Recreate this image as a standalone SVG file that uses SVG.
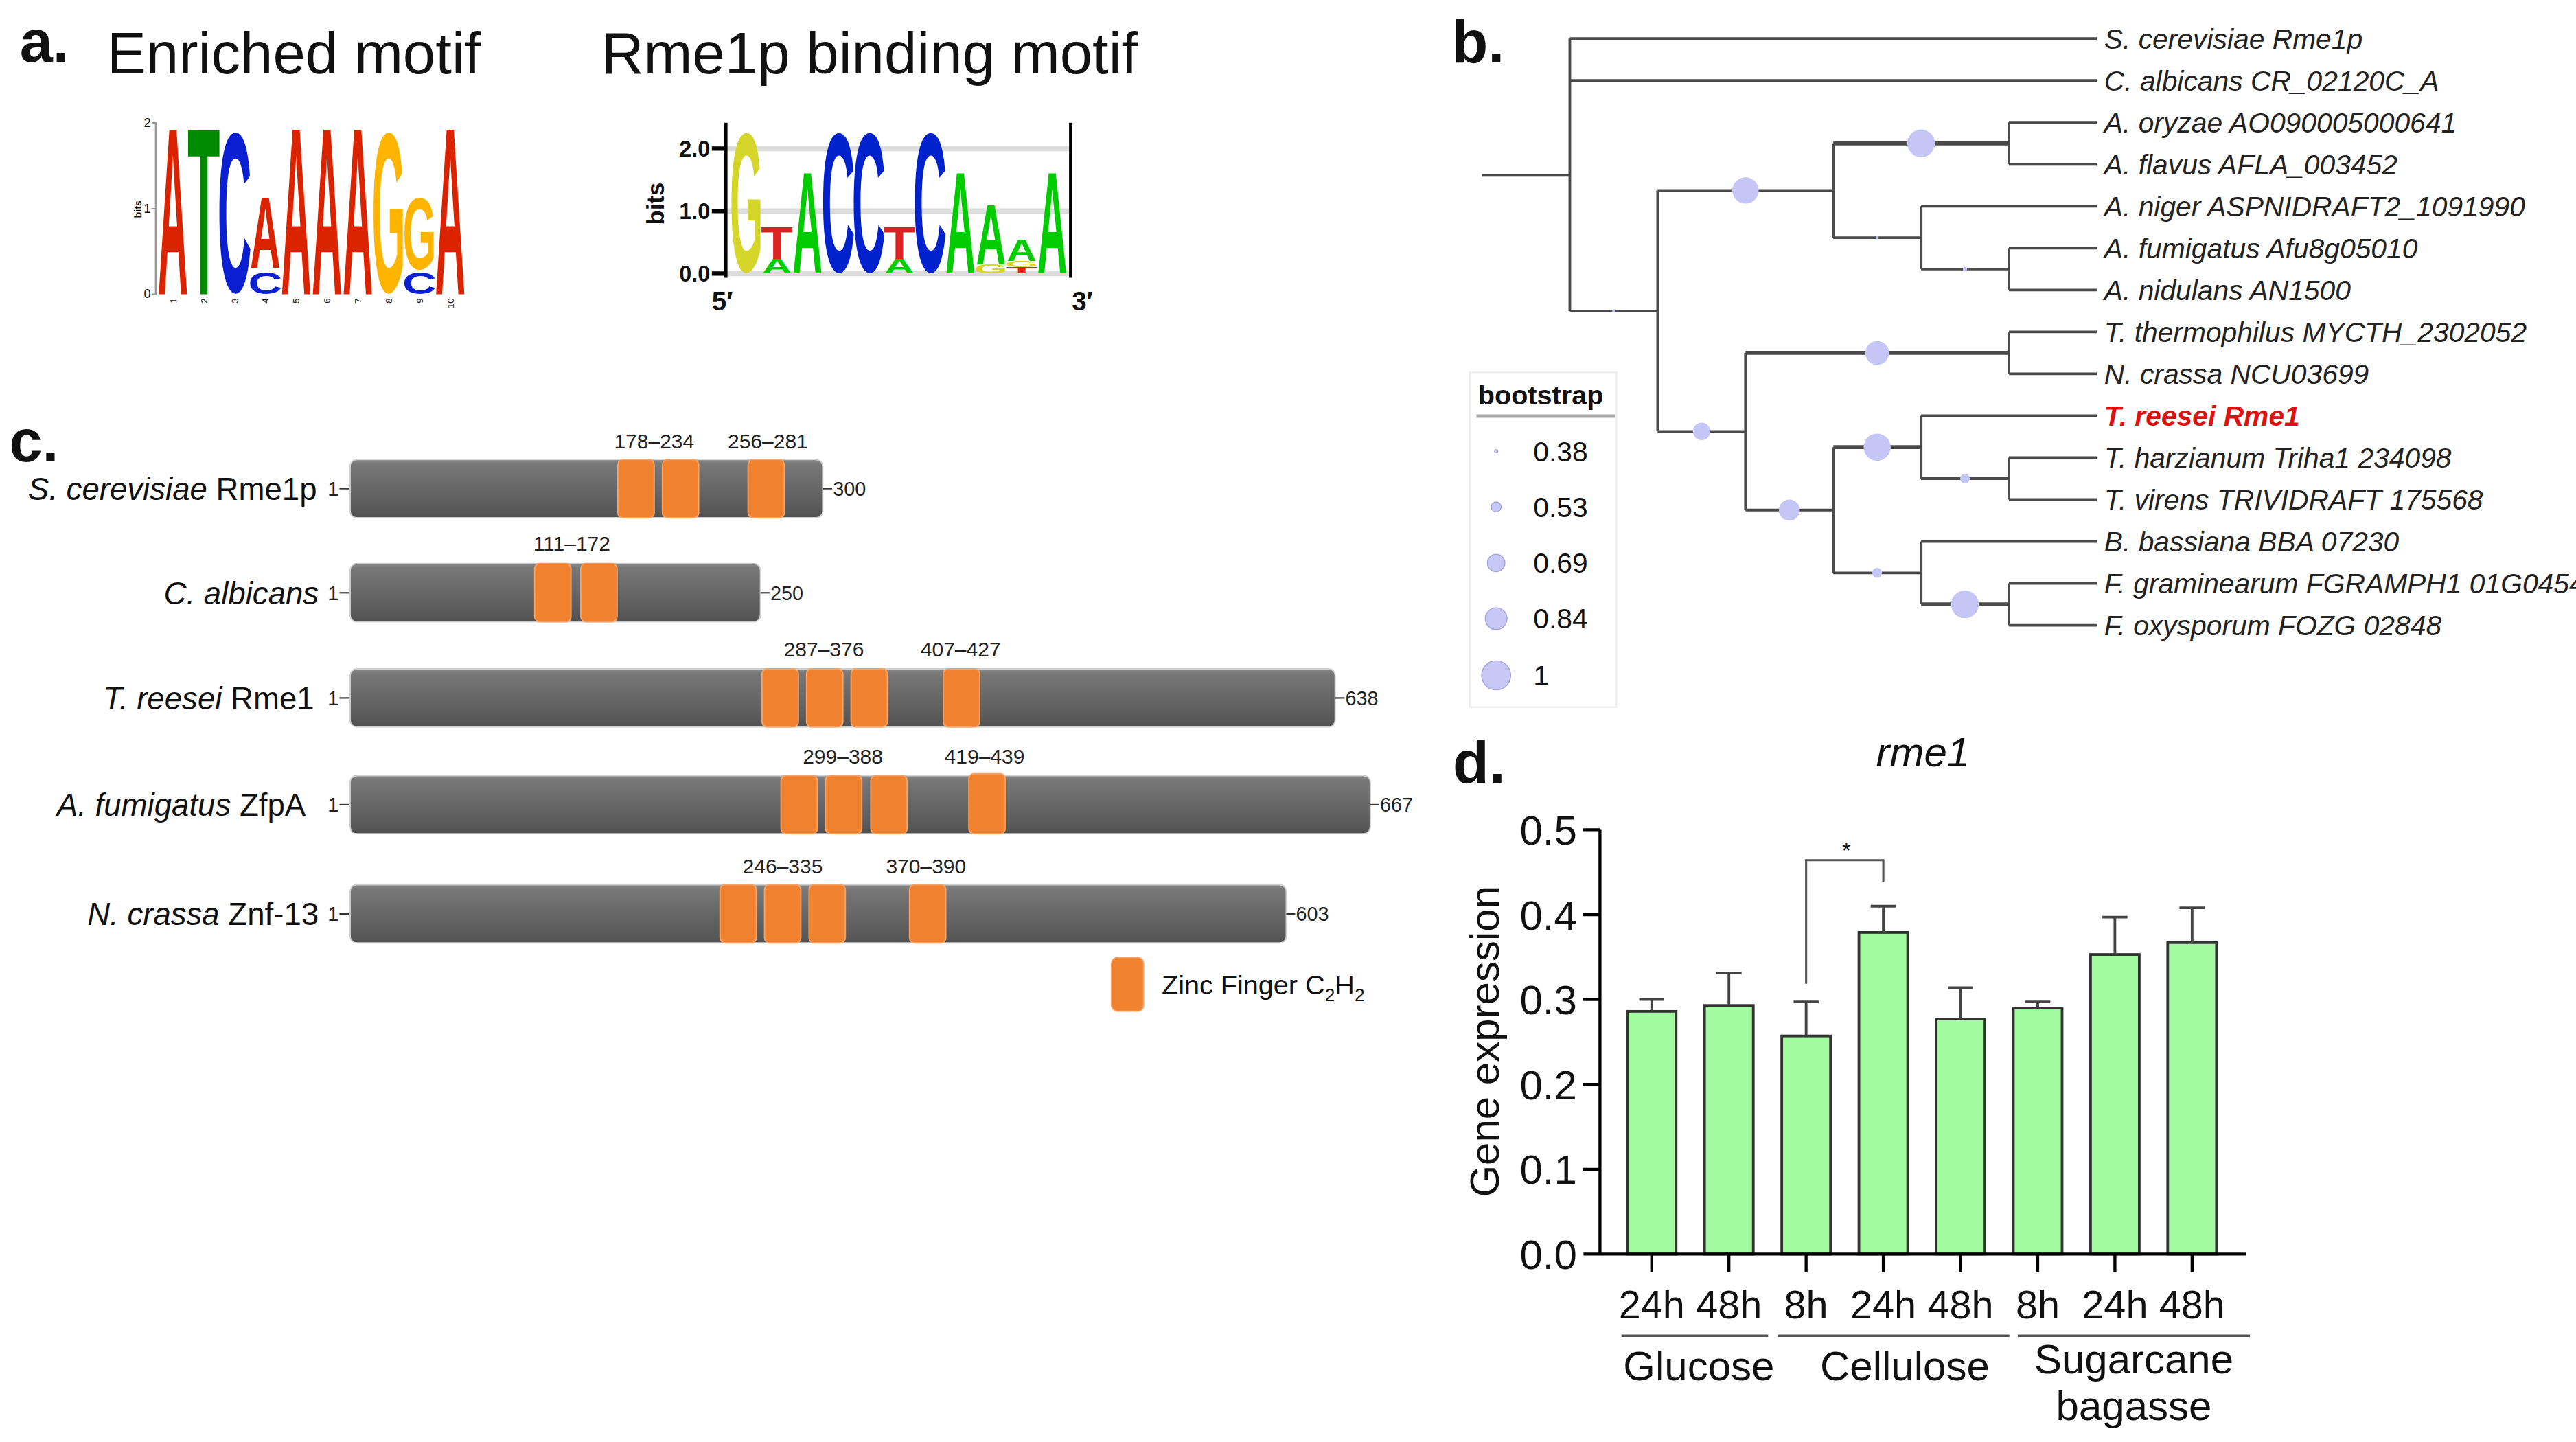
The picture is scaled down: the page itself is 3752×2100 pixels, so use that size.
<svg xmlns="http://www.w3.org/2000/svg" width="3752" height="2100" viewBox="0 0 3752 2100">
<defs>
<style>
text{font-family:"Liberation Sans",Arial,Helvetica,sans-serif;fill:#111}
.lbl{font-weight:bold;font-size:36px}
.title{font-size:35.5px}
.lg{font-family:"Liberation Sans",Arial,sans-serif;font-weight:bold;font-size:100px;text-anchor:middle}
.rA{fill:#dc2300}.gT{fill:#008a00}.bC{fill:#0a1ed2}.yG{fill:#ffb400}
.A2{fill:#00cc00}.T2{fill:#dd2222}.C2{fill:#0022cc}.G2{fill:#d6d62a}
.leaf{font-style:italic;font-size:17px;fill:#222}
.br{fill:none;stroke:#4a4a4a;stroke-width:1.6}
.brt{fill:none;stroke:#4a4a4a;stroke-width:2.4}
.bs{fill:#c6c6f6}
.lgc{fill:#c8c8f6;stroke:#a4a4d8;stroke-width:0.6}
.pos{font-size:12.5px;text-anchor:middle;fill:#222}
.nend{font-size:12px;fill:#222}
.prot{font-size:19px;text-anchor:end}
.zf{fill:#f0812f;stroke:#f6a264;stroke-width:0.8}
.bar{fill:url(#barGrad);stroke:#cfcfcf;stroke-width:0.8}
.dash{stroke:#333;stroke-width:0.9}
.gbar{fill:#a2fb9e;stroke:#333;stroke-width:1.6}
.err{stroke:#444;stroke-width:1.6;fill:none}
.axis{stroke:#000;stroke-width:1.8;fill:none}
.tk{font-size:25px;text-anchor:end}
.xl{font-size:24px;text-anchor:middle}
.grp{font-size:25px;text-anchor:middle}
</style>
<linearGradient id="barGrad" x1="0" y1="0" x2="0" y2="1">
<stop offset="0" stop-color="#8c8c8c"/>
<stop offset="0.07" stop-color="#787878"/>
<stop offset="0.9" stop-color="#575757"/>
<stop offset="1" stop-color="#505050"/>
</linearGradient>
</defs>
<rect width="3752" height="2100" fill="#fff"/>
<g transform="scale(2.4)">

<!-- ================= Panel a ================= -->
<g id="panel-a">
<text class="lbl" x="12" y="37.5">a.</text>
<text class="title" x="65" y="44.5">Enriched motif</text>
<text class="title" x="365" y="44.5">Rme1p binding motif</text>

<g id="logo-enriched">
<line x1="94.5" y1="74.6" x2="94.5" y2="178.5" stroke="#999" stroke-width="1"/>
<path d="M92,74.6H95M92,126.6H95M92,178.5H95" stroke="#999" stroke-width="0.8"/>
<text x="91.5" y="77" font-size="7.5" text-anchor="end">2</text>
<text x="91.5" y="129" font-size="7.5" text-anchor="end">1</text>
<text x="91.5" y="181" font-size="7.5" text-anchor="end">0</text>
<text font-size="6" font-weight="bold" text-anchor="middle" transform="translate(86,127) rotate(-90)">bits</text>
<text class="lg rA" transform="translate(104.95,178.5) scale(0.2556,1.4497)">A</text>
<text class="lg gT" transform="translate(123.65,178.5) scale(0.3228,1.4497)">T</text>
<text class="lg bC" transform="translate(142.35,176.85) scale(0.2875,1.3793)">C</text>
<text class="lg bC" transform="translate(161.05,178.27) scale(0.2875,0.1881)">C</text>
<text class="lg rA" transform="translate(161.05,162.41) scale(0.2556,0.6197)">A</text>
<text class="lg rA" transform="translate(179.75,178.5) scale(0.2556,1.4497)">A</text>
<text class="lg rA" transform="translate(198.45,178.5) scale(0.2556,1.4497)">A</text>
<text class="lg rA" transform="translate(217.15,178.5) scale(0.2556,1.4497)">A</text>
<text class="lg yG" transform="translate(235.85,176.85) scale(0.2629,1.3793)">G</text>
<text class="lg bC" transform="translate(254.55,178.27) scale(0.2875,0.1881)">C</text>
<text class="lg yG" transform="translate(254.55,163.23) scale(0.2629,0.6165)">G</text>
<text class="lg rA" transform="translate(273.25,178.5) scale(0.2556,1.4497)">A</text>
<g font-size="5.5" text-anchor="end">
<text transform="translate(107,181) rotate(-90)">1</text>
<text transform="translate(125.7,181) rotate(-90)">2</text>
<text transform="translate(144.4,181) rotate(-90)">3</text>
<text transform="translate(163.1,181) rotate(-90)">4</text>
<text transform="translate(181.8,181) rotate(-90)">5</text>
<text transform="translate(200.5,181) rotate(-90)">6</text>
<text transform="translate(219.2,181) rotate(-90)">7</text>
<text transform="translate(237.9,181) rotate(-90)">8</text>
<text transform="translate(256.6,181) rotate(-90)">9</text>
<text transform="translate(275.3,181) rotate(-90)">10</text>
</g>
</g>

<g id="logo-rme1p">
<path d="M441,90.2H649M441,128.1H649M441,166H649" stroke="#dcdcdc" stroke-width="3.2" fill="none"/>
<text class="lg G2" transform="translate(452.98,164.56) scale(0.26,1.2006)">G</text>
<text class="lg A2" transform="translate(471.54,166) scale(0.2528,0.1271)">A</text>
<text class="lg T2" transform="translate(471.54,156.9) scale(0.3193,0.2753)">T</text>
<text class="lg A2" transform="translate(490.1,166) scale(0.2528,0.884)">A</text>
<text class="lg C2" transform="translate(508.66,164.56) scale(0.2844,1.2006)">C</text>
<text class="lg C2" transform="translate(527.22,164.56) scale(0.2844,1.2006)">C</text>
<text class="lg A2" transform="translate(545.78,166) scale(0.2528,0.1271)">A</text>
<text class="lg T2" transform="translate(545.78,156.9) scale(0.3193,0.2753)">T</text>
<text class="lg C2" transform="translate(564.34,164.56) scale(0.2844,1.2006)">C</text>
<text class="lg A2" transform="translate(582.9,166) scale(0.2528,0.884)">A</text>
<text class="lg G2" transform="translate(601.46,165.9) scale(0.26,0.0763)">G</text>
<text class="lg A2" transform="translate(601.46,160.3) scale(0.2528,0.5187)">A</text>
<text class="lg T2" transform="translate(620.02,166) scale(0.3193,0.0529)">T</text>
<text class="lg G2" transform="translate(620.02,162.15) scale(0.26,0.0509)">G</text>
<text class="lg A2" transform="translate(620.02,158.42) scale(0.2528,0.1853)">A</text>
<text class="lg A2" transform="translate(638.58,166) scale(0.2528,0.884)">A</text>
<path d="M440.5,74.5V168.5M649.8,74.5V168.5" stroke="#000" stroke-width="2" fill="none"/>
<path d="M432,90.2H440.5M432,128.1H440.5M432,166H440.5" stroke="#000" stroke-width="2.6" fill="none"/>
<g font-size="13.5" font-weight="bold" text-anchor="end">
<text x="431" y="95">2.0</text>
<text x="431" y="133">1.0</text>
<text x="431" y="171">0.0</text>
</g>
<text font-size="14.5" font-weight="bold" text-anchor="middle" transform="translate(403,123.6) rotate(-90)">bits</text>
<text x="432" y="188.2" font-size="16" font-weight="bold">5′</text>
<text x="650.5" y="188.2" font-size="16" font-weight="bold">3′</text>
</g>
</g>

<!-- ================= Panel b ================= -->
<g id="panel-b">
<text class="lbl" x="881" y="38">b.</text>
<g id="tree-connectors">
<path class="br" d="M899.4,106.4H952.7M952.7,23.4V188.7M952.7,23.4H1272.5M952.7,48.83H1272.5M952.7,188.7H1006M1006,115.58V261.81"/>
<path class="br" d="M1006,115.58H1112.6M1112.6,86.98V144.19"/>
<path class="brt" d="M1112.6,86.98H1219.2"/>
<path class="br" d="M1219.2,74.26V99.69M1219.2,74.26H1272.5M1219.2,99.69H1272.5"/>
<path class="br" d="M1112.6,144.19H1165.9M1165.9,125.12V163.27M1165.9,125.12H1272.5M1165.9,163.27H1219.2M1219.2,150.55V175.98M1219.2,150.55H1272.5M1219.2,175.98H1272.5"/>
<path class="br" d="M1006,261.81H1059.3M1059.3,214.13V309.49"/>
<path class="brt" d="M1059.3,214.13H1219.2"/>
<path class="br" d="M1219.2,201.41V226.84M1219.2,201.41H1272.5M1219.2,226.84H1272.5"/>
<path class="br" d="M1059.3,309.49H1112.6M1112.6,271.34V347.63"/>
<path class="brt" d="M1112.6,271.34H1165.9"/>
<path class="br" d="M1165.9,252.27V290.42M1165.9,252.27H1272.5M1165.9,290.42H1219.2M1219.2,277.7V303.13M1219.2,277.7H1272.5M1219.2,303.13H1272.5"/>
<path class="br" d="M1112.6,347.63H1165.9M1165.9,328.56V366.7M1165.9,328.56H1272.5"/>
<path class="brt" d="M1165.9,366.7H1219.2"/>
<path class="br" d="M1219.2,353.99V379.42M1219.2,353.99H1272.5M1219.2,379.42H1272.5"/>
</g>
<g id="bootstrap-nodes">
<circle class="bs" cx="979.4" cy="188.7" r="1"/>
<circle class="bs" cx="1059.3" cy="115.58" r="8"/>
<circle class="bs" cx="1165.9" cy="86.98" r="8.4"/>
<circle class="bs" cx="1139.2" cy="144.19" r="1"/>
<circle class="bs" cx="1192.5" cy="163.27" r="1.3"/>
<circle class="bs" cx="1032.7" cy="261.81" r="5.3"/>
<circle class="bs" cx="1139.2" cy="214.13" r="7.2"/>
<circle class="bs" cx="1085.9" cy="309.49" r="6.4"/>
<circle class="bs" cx="1139.2" cy="271.34" r="8.2"/>
<circle class="bs" cx="1192.5" cy="290.42" r="3"/>
<circle class="bs" cx="1139.2" cy="347.63" r="3"/>
<circle class="bs" cx="1192.5" cy="366.7" r="8.4"/>
</g>
<g id="leaf-1"><text class="leaf" x="1277" y="29.4">S. cerevisiae Rme1p</text></g>
<g id="leaf-2"><text class="leaf" x="1277" y="54.8">C. albicans CR_02120C_A</text></g>
<g id="leaf-3"><text class="leaf" x="1277" y="80.3">A. oryzae AO090005000641</text></g>
<g id="leaf-4"><text class="leaf" x="1277" y="105.7">A. flavus AFLA_003452</text></g>
<g id="leaf-5"><text class="leaf" x="1277" y="131.1">A. niger ASPNIDRAFT2_1091990</text></g>
<g id="leaf-6"><text class="leaf" x="1277" y="156.6">A. fumigatus Afu8g05010</text></g>
<g id="leaf-7"><text class="leaf" x="1277" y="182">A. nidulans AN1500</text></g>
<g id="leaf-8"><text class="leaf" x="1277" y="207.4">T. thermophilus MYCTH_2302052</text></g>
<g id="leaf-9"><text class="leaf" x="1277" y="232.8">N. crassa NCU03699</text></g>
<g id="leaf-10"><text class="leaf" x="1277" y="258.3" font-weight="bold" style="fill:#dd1111">T. reesei Rme1</text></g>
<g id="leaf-11"><text class="leaf" x="1277" y="283.7">T. harzianum Triha1 234098</text></g>
<g id="leaf-12"><text class="leaf" x="1277" y="309.1">T. virens TRIVIDRAFT 175568</text></g>
<g id="leaf-13"><text class="leaf" x="1277" y="334.6">B. bassiana BBA 07230</text></g>
<g id="leaf-14"><text class="leaf" x="1277" y="360">F. graminearum FGRAMPH1 01G0454</text></g>
<g id="leaf-15"><text class="leaf" x="1277" y="385.4">F. oxysporum FOZG 02848</text></g>
<g id="bootstrap-legend">
<rect x="892" y="226" width="89" height="203" fill="#fff" stroke="#eeeeee" stroke-width="1"/>
<text x="897" y="245.5" font-size="16.5" font-weight="bold" fill="#222">bootstrap</text>
<line x1="896" y1="252.5" x2="980" y2="252.5" stroke="#aaa" stroke-width="2"/>
<circle class="lgc" cx="908" cy="273.8" r="1"/>
<circle class="lgc" cx="908" cy="307.6" r="3"/>
<circle class="lgc" cx="908" cy="341.6" r="5.3"/>
<circle class="lgc" cx="908" cy="375.4" r="6.6"/>
<circle class="lgc" cx="908" cy="409.8" r="8.8"/>
<g font-size="17" fill="#222">
<text x="930.5" y="279.8">0.38</text>
<text x="930.5" y="313.6">0.53</text>
<text x="930.5" y="347.6">0.69</text>
<text x="930.5" y="381.4">0.84</text>
<text x="930.5" y="415.8">1</text>
</g>
</g>
</g>

<!-- ================= Panel c ================= -->
<g id="panel-c">
<text class="lbl" x="5.6" y="280">c.</text>

<g id="prot-scer">
<text class="prot" x="192.3" y="303.3"><tspan font-style="italic">S. cerevisiae</tspan> Rme1p</text>
<text class="nend" x="205.5" y="300.8" text-anchor="end">1</text>
<line class="dash" x1="206" y1="296.5" x2="212.5" y2="296.5"/>
<rect class="bar" x="212.5" y="278.9" width="286.8" height="35.3" rx="4"/>
<rect class="zf" x="375" y="278.9" width="22" height="35.3" rx="3"/>
<rect class="zf" x="402" y="278.9" width="22" height="35.3" rx="3"/>
<rect class="zf" x="454" y="278.9" width="22" height="35.3" rx="3"/>
<line class="dash" x1="499.3" y1="296.5" x2="505" y2="296.5"/>
<text class="nend" x="505.5" y="300.8">300</text>
<text class="pos" x="397" y="272">178–234</text>
<text class="pos" x="466" y="272">256–281</text>
</g>

<g id="prot-calb">
<text class="prot" x="193.4" y="366.5"><tspan font-style="italic">C. albicans</tspan></text>
<text class="nend" x="205.5" y="364" text-anchor="end">1</text>
<line class="dash" x1="206" y1="359.7" x2="212.5" y2="359.7"/>
<rect class="bar" x="212.5" y="342" width="249" height="35.3" rx="4"/>
<rect class="zf" x="324.5" y="342" width="22" height="35.3" rx="3"/>
<rect class="zf" x="352.5" y="342" width="22" height="35.3" rx="3"/>
<line class="dash" x1="461.5" y1="359.7" x2="467" y2="359.7"/>
<text class="nend" x="467.5" y="364">250</text>
<text class="pos" x="347" y="334">111–172</text>
</g>

<g id="prot-tree">
<text class="prot" x="190.7" y="430.3"><tspan font-style="italic">T. reesei</tspan> Rme1</text>
<text class="nend" x="205.5" y="427.8" text-anchor="end">1</text>
<line class="dash" x1="206" y1="423.5" x2="212.5" y2="423.5"/>
<rect class="bar" x="212.5" y="405.8" width="597.8" height="35.3" rx="4"/>
<rect class="zf" x="462.5" y="405.8" width="22" height="35.3" rx="3"/>
<rect class="zf" x="489.5" y="405.8" width="22" height="35.3" rx="3"/>
<rect class="zf" x="516.5" y="405.8" width="22" height="35.3" rx="3"/>
<rect class="zf" x="572.5" y="405.8" width="22" height="35.3" rx="3"/>
<line class="dash" x1="810.3" y1="423.5" x2="816" y2="423.5"/>
<text class="nend" x="816.5" y="427.8">638</text>
<text class="pos" x="500" y="398.5">287–376</text>
<text class="pos" x="583" y="398.5">407–427</text>
</g>

<g id="prot-afum">
<text class="prot" x="185.5" y="495.1"><tspan font-style="italic">A. fumigatus</tspan> ZfpA</text>
<text class="nend" x="205.5" y="492.6" text-anchor="end">1</text>
<line class="dash" x1="206" y1="488.3" x2="212.5" y2="488.3"/>
<rect class="bar" x="212.5" y="470.6" width="619.1" height="35.3" rx="4"/>
<rect class="zf" x="474" y="470.6" width="22" height="35.3" rx="3"/>
<rect class="zf" x="501" y="470.6" width="22" height="35.3" rx="3"/>
<rect class="zf" x="528.5" y="470.6" width="22" height="35.3" rx="3"/>
<rect class="zf" x="588" y="469.5" width="22" height="36.4" rx="3"/>
<line class="dash" x1="831.6" y1="488.3" x2="837" y2="488.3"/>
<text class="nend" x="837.5" y="492.6">667</text>
<text class="pos" x="511.5" y="463.5">299–388</text>
<text class="pos" x="597.5" y="463.5">419–439</text>
</g>

<g id="prot-ncra">
<text class="prot" x="193.4" y="561.4"><tspan font-style="italic">N. crassa</tspan> Znf-13</text>
<text class="nend" x="205.5" y="558.9" text-anchor="end">1</text>
<line class="dash" x1="206" y1="554.6" x2="212.5" y2="554.6"/>
<rect class="bar" x="212.5" y="536.9" width="568.1" height="35.3" rx="4"/>
<rect class="zf" x="437" y="536.9" width="22" height="35.3" rx="3"/>
<rect class="zf" x="464" y="536.9" width="22" height="35.3" rx="3"/>
<rect class="zf" x="491" y="536.9" width="22" height="35.3" rx="3"/>
<rect class="zf" x="552" y="536.9" width="22" height="35.3" rx="3"/>
<line class="dash" x1="780.6" y1="554.6" x2="786" y2="554.6"/>
<text class="nend" x="786.5" y="558.9">603</text>
<text class="pos" x="475" y="530">246–335</text>
<text class="pos" x="562" y="530">370–390</text>
</g>

<g id="zf-legend">
<rect class="zf" x="674.6" y="581" width="19.4" height="32.6" rx="3.5"/>
<text x="705" y="603.4" font-size="16.5" fill="#222">Zinc Finger C<tspan font-size="11" dy="4">2</tspan><tspan dy="-4">H</tspan><tspan font-size="11" dy="4">2</tspan></text>
</g>
</g>

<!-- ================= Panel d ================= -->
<g id="panel-d">
<text class="lbl" x="881.7" y="475">d.</text>
<text x="1167" y="465" font-size="25" font-style="italic" text-anchor="middle">rme1</text>
<text font-size="25" text-anchor="middle" transform="translate(909.5,632) rotate(-90)">Gene expression</text>

<g id="bars">
<rect class="gbar" x="987.6" y="613.7" width="29.6" height="147.3"/>
<rect class="gbar" x="1034.45" y="610.1" width="29.6" height="150.9"/>
<rect class="gbar" x="1081.3" y="628.6" width="29.6" height="132.4"/>
<rect class="gbar" x="1128.15" y="565.8" width="29.6" height="195.2"/>
<rect class="gbar" x="1175" y="618.3" width="29.6" height="142.7"/>
<rect class="gbar" x="1221.85" y="611.7" width="29.6" height="149.3"/>
<rect class="gbar" x="1268.7" y="579.2" width="29.6" height="181.8"/>
<rect class="gbar" x="1315.55" y="572" width="29.6" height="189"/>
</g>
<g id="error-bars">
<path class="err" d="M1002.4,613.7V606.5M994.8,606.5H1010"/>
<path class="err" d="M1049.25,610.1V590.5M1041.6,590.5H1056.9"/>
<path class="err" d="M1096.1,628.6V608M1088.5,608H1103.7"/>
<path class="err" d="M1142.95,565.8V549.9M1135.3,549.9H1150.6"/>
<path class="err" d="M1189.8,618.3V599.3M1182.2,599.3H1197.4"/>
<path class="err" d="M1236.65,611.7V608M1229,608H1244.3"/>
<path class="err" d="M1283.5,579.2V556.5M1275.9,556.5H1291.1"/>
<path class="err" d="M1330.35,572V550.9M1322.7,550.9H1338"/>
</g>
<g id="significance">
<path d="M1096.1,597V522H1142.95V535" fill="none" stroke="#555" stroke-width="1.3"/>
<text x="1120.5" y="521" font-size="14" text-anchor="middle">*</text>
</g>
<g id="axes">
<path class="axis" d="M971,503.5V761M961,761H1363"/>
<path class="axis" d="M960.5,503.5H971M960.5,555H971M960.5,606.5H971M960.5,658H971M960.5,709.5H971"/>
<path class="axis" d="M1002.4,761V772M1049.25,761V772M1096.1,761V772M1142.95,761V772M1189.8,761V772M1236.65,761V772M1283.5,761V772M1330.35,761V772"/>
<text class="tk" x="957" y="512.5">0.5</text>
<text class="tk" x="957" y="564">0.4</text>
<text class="tk" x="957" y="615.5">0.3</text>
<text class="tk" x="957" y="667">0.2</text>
<text class="tk" x="957" y="718.5">0.1</text>
<text class="tk" x="957" y="770">0.0</text>
</g>
<g id="x-labels">
<text class="xl" x="1002.4" y="800">24h</text>
<text class="xl" x="1049.25" y="800">48h</text>
<text class="xl" x="1096.1" y="800">8h</text>
<text class="xl" x="1142.95" y="800">24h</text>
<text class="xl" x="1189.8" y="800">48h</text>
<text class="xl" x="1236.65" y="800">8h</text>
<text class="xl" x="1283.5" y="800">24h</text>
<text class="xl" x="1330.35" y="800">48h</text>
</g>
<g id="groups">
<path d="M984,810.5H1073M1079,810.5H1219.5M1224.5,810.5H1365.5" stroke="#555" stroke-width="1.5" fill="none"/>
<text class="grp" x="1031" y="837.5">Glucose</text>
<text class="grp" x="1156" y="837.5">Cellulose</text>
<text class="grp" x="1295" y="833.5">Sugarcane</text>
<text class="grp" x="1295" y="861.5">bagasse</text>
</g>
</g>
</g>
</svg>
